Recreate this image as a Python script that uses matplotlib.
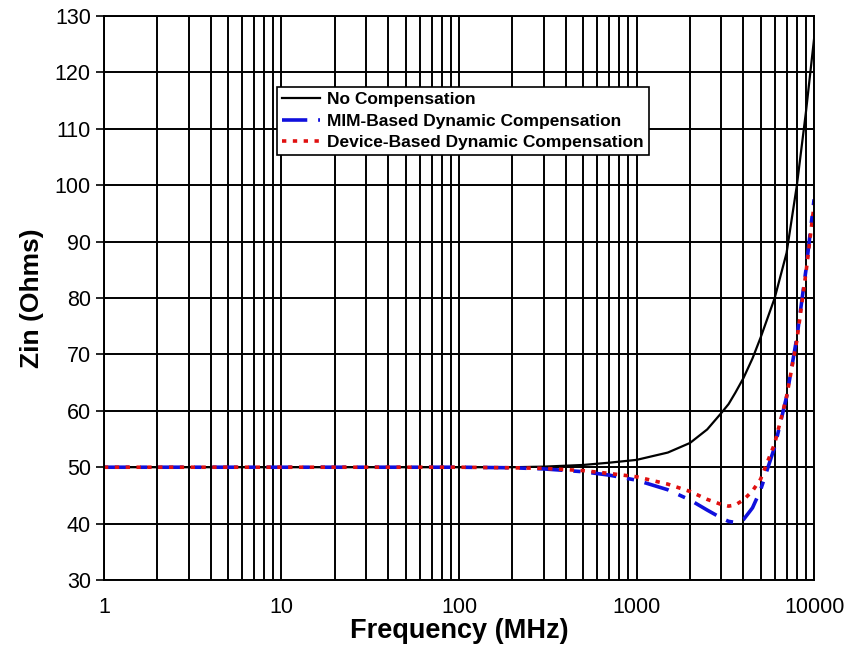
import matplotlib.pyplot as plt
from matplotlib.ticker import FixedLocator, NullFormatter, LogLocator

# frequency points (MHz)
freq = [1, 10, 100, 200, 300, 500, 700, 1000, 1500, 2000, 2500, 3000,
        3300, 3600, 4000, 4500, 5000, 6000, 7000, 8000, 9000, 10000]

no_comp = [50.0, 50.0, 50.0, 50.0, 50.1, 50.4, 50.8, 51.3, 52.6, 54.3, 56.7, 59.6,
           61.2, 63.2, 65.8, 69.3, 73.0, 80.0, 88.0, 100.0, 113.0, 126.0]
mim_comp = [50.0, 50.0, 50.0, 49.9, 49.7, 49.2, 48.6, 47.7, 46.0, 44.2, 42.4, 41.0,
            40.4, 40.2, 40.7, 42.8, 46.0, 53.6, 62.5, 73.0, 85.0, 97.5]
dev_comp = [50.0, 50.0, 50.0, 49.9, 49.8, 49.4, 48.9, 48.3, 47.0, 45.7, 44.3, 43.4,
            43.1, 43.3, 44.2, 45.8, 47.9, 54.2, 62.5, 72.5, 84.5, 96.5]

labels = ['No Compensation', 'MIM-Based Dynamic Compensation',
          'Device-Based Dynamic Compensation']

plt.rcParams['font.family'] = ['Liberation Sans', 'DejaVu Sans']

fig = plt.figure(figsize=(8.48, 6.49), dpi=100)
ax = fig.add_axes([0.1226, 0.1063, 0.8374, 0.869])

ax.plot(freq, no_comp, color='black', lw=1.6, label=labels[0])
ax.plot(freq, mim_comp, color='#1010dd', lw=2.6, dashes=(7, 3, 2, 3),
        label=labels[1])
ax.plot(freq, dev_comp, color='#e01010', lw=2.6, dashes=(1.2, 1.8),
        label=labels[2])

ax.set_xscale('log')
ax.set_xlim(1, 10000)
ax.set_ylim(30, 130)
ax.xaxis.set_major_locator(FixedLocator([1, 10, 100, 1000, 10000]))
ax.xaxis.set_minor_locator(LogLocator(base=10, subs=range(2, 10)))
ax.xaxis.set_minor_formatter(NullFormatter())
ax.set_xticklabels(['1', '10', '100', '1000', '10000'])
ax.set_yticks(range(30, 131, 10))

ax.grid(True, which='major', color='black', lw=1.4)
ax.grid(True, which='minor', axis='x', color='black', lw=1.4)
ax.tick_params(axis='x', which='both', length=0, pad=12, labelsize=15.5)
ax.tick_params(axis='y', length=6, width=1.2, direction='out', labelsize=15.5)
for s in ax.spines.values():
    s.set_linewidth(1.4)

ax.set_xlabel('Frequency (MHz)', fontsize=19.5, fontweight='bold', labelpad=0)
ax.set_ylabel('Zin (Ohms)', fontsize=19, fontweight='bold', labelpad=8)

leg = ax.legend(loc='upper left', bbox_to_anchor=(0.243, 0.874), fancybox=False,
                framealpha=1, edgecolor='black', borderpad=0.3, handlelength=2.2,
                handletextpad=0.4, labelspacing=0.35, borderaxespad=0,
                prop={'weight': 'bold', 'size': 12.5})
leg.get_frame().set_linewidth(1.2)

fig.savefig('out.png', dpi=100)
